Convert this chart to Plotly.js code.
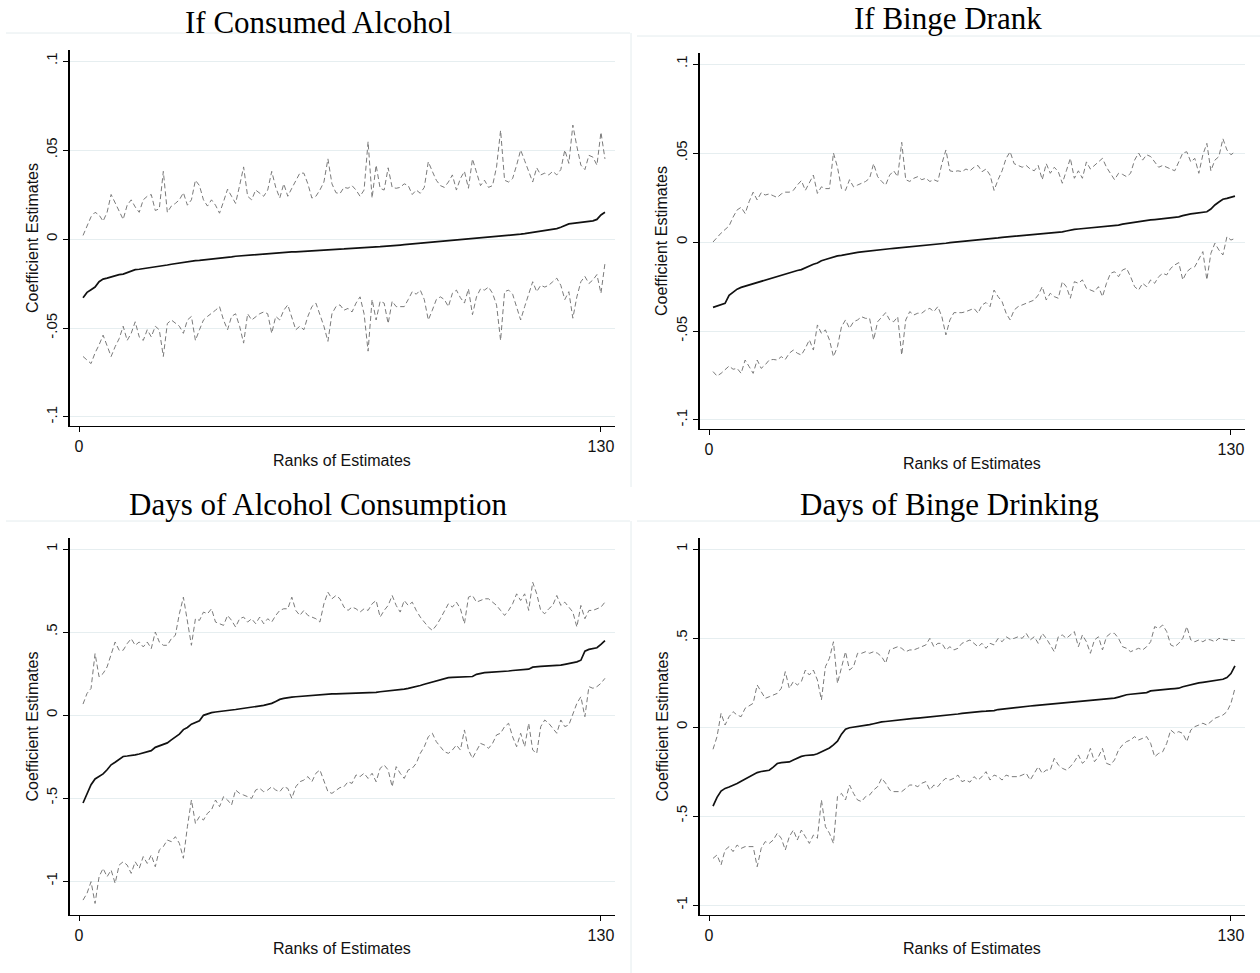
<!DOCTYPE html>
<html>
<head>
<meta charset="utf-8">
<script src="https://cdn.plot.ly/plotly-3.0.1.min.js"></script>
<style>html,body{margin:0;padding:0;background:#fff;}#chart{width:1260px;height:973px;}</style>
</head>
<body>
<div id="chart"></div>
<script>
// ---------- data ----------
const ranks = [1,2,3,4,5,6,7,8,9,10,11,12,13,14,15,16,17,18,19,20,21,22,23,24,25,26,27,28,29,30,
31,32,33,34,35,36,37,38,39,40,41,42,43,44,45,46,47,48,49,50,51,52,53,54,55,56,57,58,59,60,
61,62,63,64,65,66,67,68,69,70,71,72,73,74,75,76,77,78,79,80,81,82,83,84,85,86,87,88,89,90,
91,92,93,94,95,96,97,98,99,100,101,102,103,104,105,106,107,108,109,110,111,112,113,114,115,116,117,118,119,120,
121,122,123,124,125,126,127,128,129,130,131];

const panelTitles = ["If Consumed Alcohol", "If Binge Drank", "Days of Alcohol Consumption", "Days of Binge Drinking"];
const xTickVals = [0, 130];
const xTickText = ["0", "130"];
const yTickValsSmall = [-0.1, -0.05, 0, 0.05, 0.1];
const yTickTextSmall = ["-.1", "-.05", "0", ".05", ".1"];
const yTickValsLarge = [-1, -0.5, 0, 0.5, 1];
const yTickTextLarge = ["-1", "-.5", "0", ".5", "1"];
const xTitle = "Ranks of Estimates";
const yTitle = "Coefficient Estimates";

// Panel 1: If Consumed Alcohol
const est1 = [-0.0330,-0.0300,-0.0285,-0.0270,-0.0240,-0.0225,-0.0220,-0.0212,-0.0205,-0.0200,
-0.0197,-0.0190,-0.0180,-0.0172,-0.0170,-0.0166,-0.0162,-0.0158,-0.0155,-0.0152,
-0.0150,-0.0146,-0.0142,-0.0138,-0.0135,-0.0131,-0.0127,-0.0125,-0.0122,-0.0120,
-0.0118,-0.0116,-0.0113,-0.0111,-0.0109,-0.0106,-0.0103,-0.0100,-0.0097,-0.0095,
-0.0093,-0.0092,-0.0090,-0.0088,-0.0086,-0.0084,-0.0082,-0.0081,-0.0079,-0.0077,
-0.0075,-0.0073,-0.0072,-0.0072,-0.0071,-0.0070,-0.0069,-0.0067,-0.0064,-0.0062,
-0.0061,-0.0060,-0.0059,-0.0058,-0.0057,-0.0056,-0.0054,-0.0052,-0.0051,-0.0050,
-0.0048,-0.0047,-0.0045,-0.0044,-0.0043,-0.0042,-0.0040,-0.0038,-0.0036,-0.0034,
-0.0032,-0.0030,-0.0028,-0.0025,-0.0022,-0.0020,-0.0018,-0.0016,-0.0015,-0.0013,
-0.0011,-0.0010,-0.0008,-0.0006,-0.0005,-0.0003,-0.0002,0.0000,0.0002,0.0004,
0.0008,0.0010,0.0012,0.0014,0.0017,0.0019,0.0021,0.0023,0.0025,0.0027,
0.0030,0.0033,0.0037,0.0041,0.0044,0.0047,0.0051,0.0054,0.0058,0.0066,
0.0075,0.0085,0.0088,0.0090,0.0093,0.0096,0.0099,0.0102,0.0110,0.0135,0.0150];
const up1 = [0.002,0.007,0.0125,0.015,0.0135,0.010,0.015,0.025,0.020,0.015,
0.011,0.019,0.022,0.018,0.015,0.022,0.024,0.025,0.016,0.017,
0.038,0.015,0.0185,0.020,0.022,0.026,0.019,0.022,0.033,0.030,
0.022,0.0185,0.022,0.019,0.0145,0.021,0.028,0.024,0.020,0.030,
0.0405,0.024,0.022,0.0275,0.026,0.024,0.0275,0.038,0.029,0.023,
0.031,0.024,0.0285,0.033,0.037,0.037,0.031,0.023,0.024,0.0275,
0.032,0.045,0.031,0.026,0.0255,0.029,0.0285,0.030,0.0275,0.024,
0.0275,0.0547,0.023,0.0415,0.0285,0.0275,0.040,0.029,0.0285,0.029,
0.031,0.030,0.025,0.0275,0.0257,0.029,0.0434,0.038,0.033,0.030,
0.029,0.032,0.036,0.0275,0.034,0.038,0.0285,0.045,0.038,0.030,
0.033,0.029,0.030,0.0405,0.061,0.033,0.032,0.034,0.0415,0.050,
0.044,0.038,0.032,0.040,0.036,0.037,0.036,0.038,0.036,0.039,
0.050,0.0425,0.064,0.052,0.0415,0.039,0.047,0.046,0.0415,0.060,0.045];
const lo1 = [-0.066,-0.068,-0.070,-0.064,-0.0595,-0.054,-0.0605,-0.066,-0.0605,-0.056,
-0.049,-0.057,-0.053,-0.0465,-0.055,-0.057,-0.051,-0.055,-0.049,-0.051,
-0.066,-0.0475,-0.0455,-0.0475,-0.049,-0.053,-0.0455,-0.0435,-0.057,-0.051,
-0.0455,-0.0435,-0.042,-0.040,-0.038,-0.0455,-0.051,-0.0435,-0.042,-0.049,
-0.0585,-0.042,-0.0455,-0.0435,-0.042,-0.041,-0.042,-0.053,-0.0435,-0.0455,
-0.040,-0.037,-0.0445,-0.051,-0.049,-0.051,-0.0435,-0.038,-0.036,-0.042,
-0.049,-0.0575,-0.042,-0.038,-0.037,-0.040,-0.039,-0.041,-0.036,-0.0325,
-0.042,-0.063,-0.034,-0.0455,-0.035,-0.036,-0.0475,-0.035,-0.038,-0.038,
-0.038,-0.034,-0.0296,-0.031,-0.0287,-0.034,-0.0455,-0.040,-0.034,-0.0325,
-0.034,-0.038,-0.0305,-0.0287,-0.033,-0.036,-0.028,-0.0425,-0.0325,-0.028,
-0.0287,-0.027,-0.0305,-0.037,-0.057,-0.0296,-0.0287,-0.031,-0.038,-0.0455,
-0.038,-0.0305,-0.024,-0.0296,-0.026,-0.027,-0.026,-0.024,-0.022,-0.026,
-0.034,-0.0296,-0.0445,-0.0325,-0.024,-0.021,-0.025,-0.023,-0.020,-0.0305,-0.0137];

// Panel 2: If Binge Drank
const est2 = [-0.0367,-0.0360,-0.0355,-0.0345,-0.0300,-0.0280,-0.0265,-0.0255,-0.0248,-0.0243,
-0.0235,-0.0228,-0.0222,-0.0215,-0.0210,-0.0203,-0.0195,-0.0188,-0.0180,-0.0173,
-0.0168,-0.0160,-0.0155,-0.0145,-0.0132,-0.0125,-0.0118,-0.0105,-0.0098,-0.0090,
-0.0082,-0.0078,-0.0075,-0.0070,-0.0066,-0.0062,-0.0058,-0.0055,-0.0052,-0.0050,
-0.0047,-0.0044,-0.0042,-0.0040,-0.0038,-0.0036,-0.0034,-0.0032,-0.0030,-0.0027,
-0.0024,-0.0022,-0.0020,-0.0017,-0.0015,-0.0013,-0.0011,-0.0009,-0.0007,-0.0004,
-0.0002,0.0000,0.0002,0.0004,0.0006,0.0008,0.0010,0.0011,0.0013,0.0015,
0.0017,0.0023,0.0026,0.0028,0.0030,0.0032,0.0034,0.0036,0.0037,0.0039,
0.0041,0.0043,0.0045,0.0047,0.0049,0.0051,0.0054,0.0057,0.0062,0.0068,
0.0071,0.0073,0.0075,0.0076,0.0077,0.0080,0.0082,0.0084,0.0086,0.0088,
0.0090,0.0095,0.0100,0.0104,0.0108,0.0111,0.0114,0.0117,0.0121,0.0124,
0.0126,0.0128,0.0131,0.0133,0.0135,0.0138,0.0141,0.0148,0.0155,0.0158,
0.0161,0.0164,0.0166,0.0170,0.0185,0.0208,0.0225,0.0240,0.0245,0.0250,0.0258];
const up2 = [0.000,0.0026,0.005,0.007,0.009,0.014,0.018,0.0195,0.016,0.0227,
0.028,0.0236,0.0277,0.0264,0.027,0.026,0.025,0.027,0.028,0.028,
0.029,0.032,0.0345,0.029,0.033,0.0376,0.0273,0.031,0.030,0.030,
0.050,0.042,0.030,0.029,0.035,0.031,0.032,0.033,0.034,0.0358,
0.044,0.0367,0.034,0.032,0.0376,0.040,0.0367,0.056,0.035,0.034,
0.0358,0.0367,0.035,0.0358,0.034,0.035,0.034,0.044,0.0517,0.040,
0.0395,0.040,0.0395,0.041,0.040,0.042,0.043,0.0395,0.041,0.0376,
0.029,0.035,0.040,0.047,0.0507,0.044,0.043,0.042,0.043,0.041,
0.040,0.043,0.035,0.044,0.0386,0.042,0.0395,0.033,0.040,0.047,
0.0358,0.040,0.0358,0.045,0.041,0.043,0.045,0.047,0.042,0.0386,
0.035,0.0386,0.038,0.0367,0.0386,0.046,0.050,0.046,0.049,0.048,
0.045,0.042,0.043,0.042,0.041,0.040,0.045,0.050,0.0507,0.045,
0.047,0.0386,0.049,0.0554,0.040,0.046,0.048,0.058,0.0517,0.049,0.0507];
const lo2 = [-0.0728,-0.0753,-0.0738,-0.0715,-0.0697,-0.0715,-0.071,-0.0738,-0.0663,-0.070,
-0.0738,-0.0663,-0.071,-0.069,-0.0663,-0.066,-0.0663,-0.0644,-0.066,-0.0625,
-0.0607,-0.0625,-0.0635,-0.0597,-0.055,-0.0607,-0.0466,-0.0513,-0.0494,-0.055,
-0.0644,-0.0588,-0.0476,-0.0438,-0.0485,-0.0448,-0.0438,-0.042,-0.0429,-0.0429,
-0.055,-0.0448,-0.042,-0.0397,-0.0438,-0.0448,-0.042,-0.0635,-0.0438,-0.0391,
-0.041,-0.040,-0.040,-0.0382,-0.0373,-0.0391,-0.0363,-0.042,-0.0522,-0.0438,
-0.0397,-0.0397,-0.0397,-0.0391,-0.0382,-0.0373,-0.040,-0.0354,-0.034,-0.0363,
-0.027,-0.0307,-0.0335,-0.040,-0.0438,-0.0382,-0.0363,-0.0354,-0.0345,-0.0335,
-0.0326,-0.0298,-0.0251,-0.0326,-0.0288,-0.0307,-0.0316,-0.0223,-0.0251,-0.0316,
-0.0223,-0.0232,-0.0213,-0.026,-0.027,-0.0279,-0.0251,-0.0307,-0.0232,-0.0176,
-0.0167,-0.0195,-0.0157,-0.0148,-0.0195,-0.0251,-0.027,-0.0232,-0.0251,-0.0213,
-0.0232,-0.0195,-0.0176,-0.0185,-0.0148,-0.0129,-0.0116,-0.0213,-0.0167,-0.0148,
-0.0139,-0.0092,-0.0054,-0.0213,-0.0064,-0.0007,-0.0045,-0.0073,0.003,0.0011,0.002];

// Panel 3: Days of Alcohol Consumption
const est3 = [-0.53,-0.47,-0.42,-0.385,-0.37,-0.355,-0.33,-0.30,-0.285,-0.265,
-0.25,-0.247,-0.245,-0.24,-0.235,-0.228,-0.222,-0.215,-0.195,-0.185,
-0.178,-0.168,-0.150,-0.135,-0.115,-0.088,-0.075,-0.055,-0.045,-0.035,
-0.002,0.008,0.014,0.018,0.020,0.024,0.026,0.030,0.033,0.036,
0.040,0.042,0.045,0.048,0.052,0.058,0.064,0.070,0.082,0.094,
0.100,0.106,0.108,0.110,0.112,0.114,0.118,0.120,0.122,0.124,
0.125,0.126,0.127,0.127,0.128,0.128,0.129,0.129,0.130,0.130,
0.131,0.132,0.134,0.136,0.140,0.142,0.145,0.148,0.150,0.153,
0.156,0.160,0.165,0.172,0.178,0.185,0.192,0.200,0.208,0.215,
0.222,0.225,0.227,0.228,0.229,0.230,0.231,0.232,0.245,0.252,
0.255,0.257,0.258,0.260,0.261,0.263,0.265,0.268,0.270,0.272,
0.274,0.276,0.288,0.292,0.293,0.294,0.295,0.296,0.298,0.300,
0.305,0.310,0.315,0.320,0.330,0.385,0.395,0.398,0.405,0.425,0.448];
const up3 = [0.066,0.13,0.16,0.37,0.23,0.25,0.29,0.36,0.44,0.39,
0.39,0.43,0.46,0.42,0.44,0.41,0.44,0.40,0.50,0.44,
0.42,0.42,0.46,0.48,0.61,0.71,0.57,0.42,0.58,0.57,
0.62,0.61,0.64,0.56,0.55,0.54,0.60,0.57,0.53,0.58,
0.59,0.56,0.58,0.55,0.59,0.55,0.58,0.56,0.60,0.63,
0.64,0.64,0.71,0.63,0.60,0.63,0.60,0.59,0.58,0.56,
0.67,0.74,0.70,0.72,0.70,0.65,0.63,0.65,0.64,0.62,
0.64,0.63,0.67,0.69,0.59,0.63,0.66,0.72,0.66,0.62,
0.69,0.66,0.68,0.63,0.59,0.56,0.53,0.51,0.54,0.58,
0.63,0.67,0.65,0.68,0.64,0.55,0.71,0.72,0.68,0.69,
0.70,0.70,0.68,0.66,0.63,0.60,0.63,0.67,0.73,0.69,
0.73,0.63,0.80,0.73,0.63,0.61,0.64,0.66,0.72,0.66,
0.68,0.65,0.62,0.53,0.66,0.58,0.63,0.63,0.64,0.65,0.68];
const lo3 = [-1.115,-1.074,-1.004,-1.135,-0.974,-0.924,-0.974,-0.934,-1.014,-0.904,
-0.884,-0.904,-0.954,-0.884,-0.924,-0.853,-0.894,-0.843,-0.914,-0.813,
-0.793,-0.753,-0.763,-0.733,-0.773,-0.863,-0.673,-0.512,-0.653,-0.612,
-0.633,-0.592,-0.572,-0.512,-0.552,-0.492,-0.512,-0.542,-0.452,-0.472,
-0.482,-0.492,-0.502,-0.452,-0.442,-0.462,-0.452,-0.432,-0.452,-0.462,
-0.432,-0.442,-0.502,-0.432,-0.402,-0.392,-0.371,-0.402,-0.351,-0.331,
-0.402,-0.462,-0.472,-0.452,-0.437,-0.432,-0.402,-0.412,-0.361,-0.371,
-0.351,-0.382,-0.351,-0.402,-0.321,-0.301,-0.331,-0.432,-0.311,-0.351,
-0.382,-0.331,-0.321,-0.291,-0.231,-0.191,-0.131,-0.110,-0.161,-0.191,
-0.221,-0.231,-0.211,-0.181,-0.211,-0.090,-0.211,-0.261,-0.211,-0.171,
-0.181,-0.201,-0.171,-0.120,-0.110,-0.070,-0.050,-0.131,-0.191,-0.110,
-0.191,-0.050,-0.211,-0.231,-0.070,-0.030,-0.050,-0.080,-0.110,-0.030,
-0.070,-0.060,0.000,0.070,0.110,-0.010,0.171,0.161,0.171,0.191,0.221];

// Panel 4: Days of Binge Drinking
const est4 = [-0.444,-0.395,-0.36,-0.345,-0.337,-0.328,-0.318,-0.305,-0.292,-0.280,
-0.270,-0.256,-0.250,-0.247,-0.243,-0.225,-0.205,-0.200,-0.198,-0.196,
-0.185,-0.175,-0.165,-0.160,-0.158,-0.157,-0.150,-0.138,-0.128,-0.118,
-0.100,-0.080,-0.040,-0.012,-0.004,-0.001,0.001,0.003,0.008,0.013,
0.018,0.024,0.029,0.031,0.034,0.036,0.038,0.040,0.042,0.045,
0.048,0.050,0.052,0.054,0.056,0.058,0.060,0.062,0.064,0.066,
0.069,0.073,0.077,0.080,0.082,0.084,0.086,0.088,0.089,0.090,
0.092,0.098,0.101,0.104,0.106,0.108,0.110,0.113,0.116,0.118,
0.120,0.122,0.124,0.126,0.128,0.130,0.132,0.133,0.135,0.138,
0.140,0.142,0.144,0.146,0.148,0.150,0.152,0.154,0.156,0.159,
0.162,0.168,0.176,0.181,0.184,0.186,0.188,0.190,0.193,0.203,
0.206,0.208,0.210,0.212,0.214,0.216,0.218,0.226,0.232,0.238,
0.244,0.248,0.251,0.254,0.257,0.260,0.263,0.268,0.278,0.300,0.343];
const up4 = [-0.125,-0.054,0.077,0.011,0.058,0.086,0.067,0.058,0.105,0.118,
0.133,0.236,0.199,0.161,0.170,0.180,0.189,0.217,0.311,0.217,
0.255,0.236,0.255,0.320,0.292,0.320,0.264,0.152,0.339,0.386,
0.479,0.245,0.330,0.423,0.320,0.339,0.414,0.414,0.423,0.414,
0.423,0.414,0.395,0.358,0.433,0.442,0.451,0.442,0.423,0.433,
0.433,0.442,0.451,0.461,0.498,0.451,0.470,0.470,0.433,0.451,
0.433,0.442,0.470,0.479,0.489,0.470,0.451,0.470,0.442,0.470,
0.461,0.498,0.479,0.507,0.493,0.498,0.507,0.498,0.526,0.489,
0.507,0.470,0.526,0.498,0.461,0.423,0.507,0.517,0.498,0.517,
0.536,0.451,0.517,0.479,0.414,0.489,0.507,0.433,0.507,0.526,
0.526,0.498,0.451,0.442,0.423,0.433,0.442,0.433,0.451,0.479,
0.564,0.554,0.573,0.536,0.461,0.451,0.470,0.498,0.564,0.489,
0.479,0.489,0.479,0.493,0.489,0.479,0.498,0.493,0.489,0.485,0.485];
const lo4 = [-0.738,-0.719,-0.775,-0.691,-0.672,-0.700,-0.663,-0.682,-0.672,-0.672,
-0.672,-0.785,-0.682,-0.644,-0.654,-0.635,-0.597,-0.625,-0.691,-0.616,
-0.579,-0.635,-0.579,-0.616,-0.654,-0.607,-0.625,-0.410,-0.560,-0.597,
-0.654,-0.391,-0.373,-0.410,-0.326,-0.373,-0.410,-0.419,-0.391,-0.382,
-0.354,-0.335,-0.288,-0.316,-0.354,-0.363,-0.363,-0.363,-0.345,-0.326,
-0.326,-0.335,-0.316,-0.307,-0.354,-0.326,-0.335,-0.307,-0.288,-0.298,
-0.288,-0.270,-0.307,-0.298,-0.310,-0.279,-0.298,-0.279,-0.251,-0.298,
-0.270,-0.279,-0.298,-0.270,-0.279,-0.279,-0.279,-0.270,-0.260,-0.298,
-0.260,-0.223,-0.260,-0.242,-0.242,-0.176,-0.213,-0.232,-0.242,-0.223,
-0.195,-0.157,-0.204,-0.185,-0.120,-0.195,-0.167,-0.120,-0.204,-0.213,
-0.185,-0.129,-0.101,-0.082,-0.073,-0.054,-0.073,-0.064,-0.054,-0.092,
-0.167,-0.148,-0.139,-0.092,-0.017,-0.036,-0.026,-0.036,-0.082,-0.017,
0.002,0.011,0.021,0.011,0.030,0.049,0.058,0.067,0.086,0.133,0.217];

// ---------- drawing ----------
const W = 1260, H = 973;
const px = v => v / W;
const py = v => 1 - v / H;

const panels = [
  {est: est1, up: up1, lo: lo1, xl: 69.5, top: 50, bot: 426, yr: [-0.10506, 0.10618], small: true},
  {est: est2, up: up2, lo: lo2, xl: 699.5, top: 53, bot: 429, yr: [-0.10506, 0.10618], small: true},
  {est: est3, up: up3, lo: lo3, xl: 69.5, top: 538, bot: 915, yr: [-1.2048, 1.0663], small: false},
  {est: est4, up: up4, lo: lo4, xl: 699.5, top: 538, bot: 915, yr: [-1.0562, 1.0618], small: false}
];
const titlePos = [[318, 22], [948, 19], [318, 504], [949, 504]];
const xTitleY = [460, 463, 948, 948];

const xTickFont = {family: "Liberation Sans, Arial, sans-serif", size: 16, color: "#111"};
const yTickFont = {family: "Liberation Sans, Arial, sans-serif", size: 15, color: "#111"};
const traces = [];
const layout = {
  width: W, height: H,
  margin: {l: 0, r: 0, t: 0, b: 0},
  paper_bgcolor: "#ffffff", plot_bgcolor: "#ffffff",
  showlegend: false,
  annotations: [], shapes: []
};

panels.forEach((p, i) => {
  const n = i + 1;
  const xa = "x" + (n === 1 ? "" : n), ya = "y" + (n === 1 ? "" : n);
  const xk = "xaxis" + (n === 1 ? "" : n), yk = "yaxis" + (n === 1 ? "" : n);
  const plotW = 545;
  const xr = [-9.5 / 4.015, (plotW - 9.5) / 4.015];
  layout[xk] = {
    domain: [px(p.xl), px(p.xl + plotW)], anchor: ya, range: xr,
    tickmode: "array", tickvals: xTickVals, ticktext: xTickText,
    ticks: "outside", ticklen: 5, tickwidth: 1, tickcolor: "#000",
    showline: true, linecolor: "#000", linewidth: 1.4,
    showgrid: false, zeroline: false, tickfont: xTickFont, fixedrange: true
  };
  layout[yk] = {
    domain: [py(p.bot), py(p.top)], anchor: xa, range: p.yr,
    tickmode: "array",
    tickvals: p.small ? yTickValsSmall : yTickValsLarge,
    ticktext: p.small ? yTickTextSmall : yTickTextLarge,
    tickangle: -90,
    ticks: "outside", ticklen: 5, tickwidth: 1, tickcolor: "#000",
    showline: true, linecolor: "#000", linewidth: 1.4,
    showgrid: true, gridcolor: "#e6eef0", gridwidth: 1,
    zeroline: false, tickfont: yTickFont, fixedrange: true
  };
  traces.push({x: ranks, y: p.up, xaxis: xa, yaxis: ya, type: "scatter", mode: "lines",
    line: {color: "#7a7a7a", width: 1, dash: "5px,3px"}, hoverinfo: "skip"});
  traces.push({x: ranks, y: p.lo, xaxis: xa, yaxis: ya, type: "scatter", mode: "lines",
    line: {color: "#7a7a7a", width: 1, dash: "5px,3px"}, hoverinfo: "skip"});
  traces.push({x: ranks, y: p.est, xaxis: xa, yaxis: ya, type: "scatter", mode: "lines",
    line: {color: "#111111", width: 1.7}, hoverinfo: "skip"});

  layout.annotations.push({
    text: panelTitles[i], xref: "paper", yref: "paper",
    x: px(titlePos[i][0]), y: py(titlePos[i][1]), xanchor: "center", yanchor: "middle",
    showarrow: false, font: {family: "Liberation Serif, Times New Roman, serif", size: 31, color: "#000"}
  });
  layout.annotations.push({
    text: xTitle, xref: "paper", yref: "paper",
    x: px(p.xl + plotW / 2), y: py(xTitleY[i]), xanchor: "center", yanchor: "middle",
    showarrow: false, font: {family: "Liberation Sans, Arial, sans-serif", size: 16, color: "#111"}
  });
  layout.annotations.push({
    text: yTitle, xref: "paper", yref: "paper", textangle: -90,
    x: px(p.xl - 37.5), y: py((p.top + p.bot) / 2), xanchor: "center", yanchor: "middle",
    showarrow: false, font: {family: "Liberation Sans, Arial, sans-serif", size: 16, color: "#111"}
  });
});

// faint graph-region borders
const faint = {color: "#e4ecee", width: 1};
layout.shapes.push(
  {type: "line", xref: "paper", yref: "paper", x0: px(6), x1: px(630), y0: py(33), y1: py(33), line: faint},
  {type: "line", xref: "paper", yref: "paper", x0: px(637), x1: px(1260), y0: py(36), y1: py(36), line: faint},
  {type: "line", xref: "paper", yref: "paper", x0: px(6), x1: px(630), y0: py(521), y1: py(521), line: faint},
  {type: "line", xref: "paper", yref: "paper", x0: px(637), x1: px(1260), y0: py(521), y1: py(521), line: faint},
  {type: "line", xref: "paper", yref: "paper", x0: px(631), x1: px(631), y0: py(33), y1: py(487), line: faint},
  {type: "line", xref: "paper", yref: "paper", x0: px(631), x1: px(631), y0: py(521), y1: py(973), line: faint}
);

Plotly.newPlot("chart", traces, layout, {staticPlot: true, displayModeBar: false});
</script>
</body>
</html>
